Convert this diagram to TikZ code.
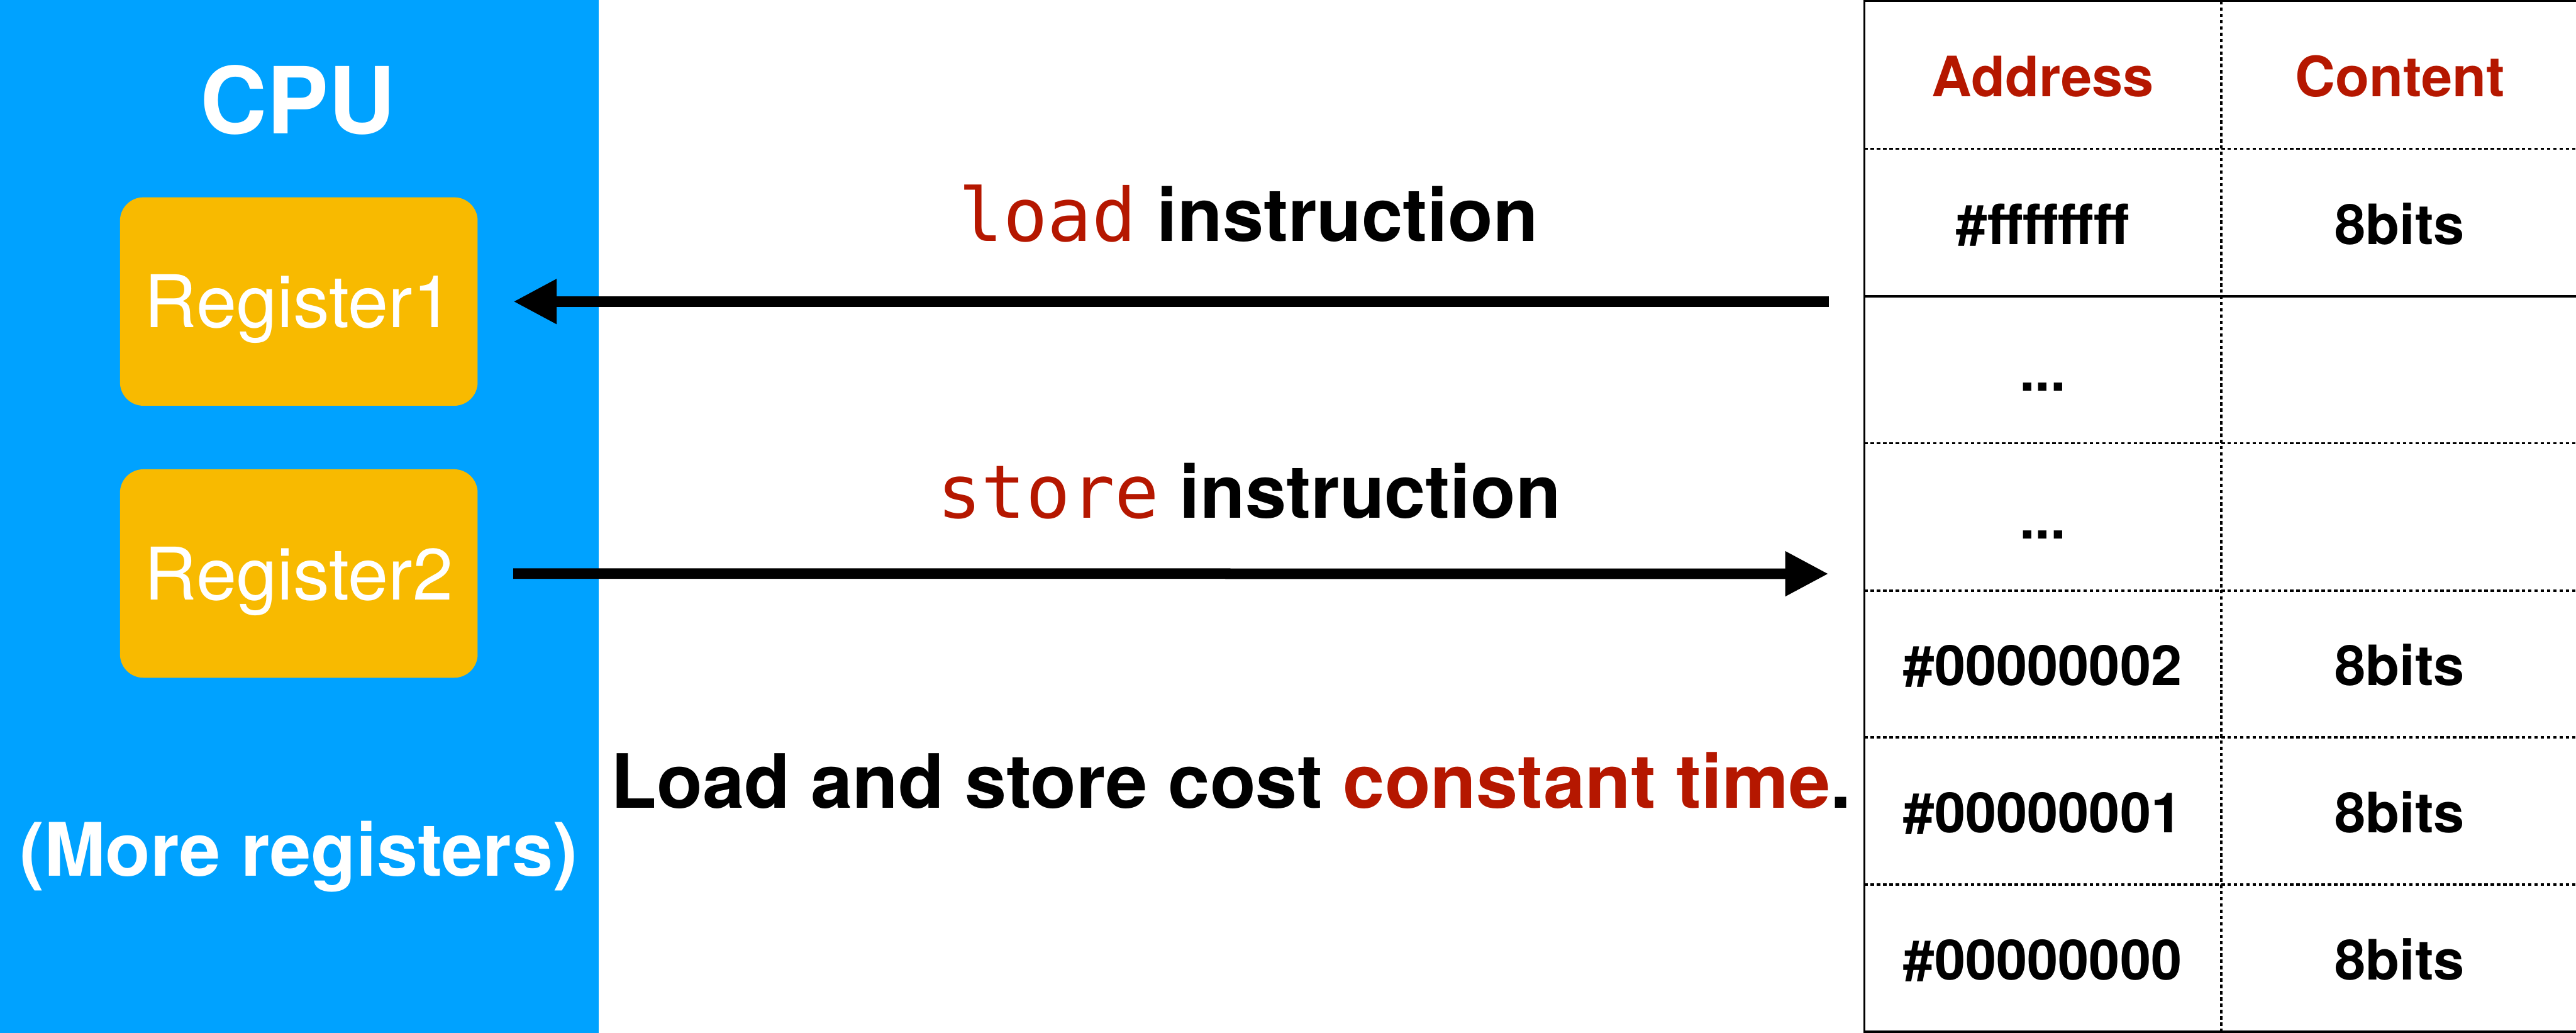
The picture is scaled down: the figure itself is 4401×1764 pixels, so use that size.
\documentclass[tikz,border=0pt]{standalone}
\usepackage{fontspec}
\setmainfont{TeX Gyre Heros}
\newfontfamily\codefont{DejaVu Sans Mono}
\usetikzlibrary{arrows.meta}
\definecolor{cpublue}{RGB}{0,162,255}
\definecolor{regyellow}{RGB}{248,186,0}
\definecolor{hlred}{RGB}{181,23,0}
\begin{document}
\begin{tikzpicture}[x=0.1pt,y=-0.1pt,
  lbl/.style={inner sep=0pt, anchor=base},
  cpubox/.style={fill=cpublue, inner sep=0pt, minimum width=102.3pt, minimum height=176.4pt},
  regbox/.style={fill=regyellow, rounded corners=4pt, minimum width=61.1pt, minimum height=35.6pt,
    inner sep=0pt, text=white, font=\fontsize{12.4}{14}\selectfont, text height=8.9pt, text depth=0pt},
  cell/.style={lbl, font=\fontsize{9.5}{11}\selectfont\bfseries},
  flow/.style={line width=1.8pt, -{Triangle[length=7.4pt,width=7.2pt]}},
  gridsolid/.style={line width=0.35pt},
  griddot/.style={line width=0.4pt, dash pattern=on 0.6pt off 0.47pt}]
\useasboundingbox (0,0) rectangle (4401,1764);

% CPU with its registers
\node[cpubox] (cpu) at (511.5,882) {};
\node[lbl, text=white, font=\fontsize{15.8}{18}\selectfont\bfseries] (cputitle) at (509,228) {CPU};
\node[regbox] (reg1) at (510.5,515) {Register1};
\node[regbox] (reg2) at (510.5,979.5) {Register2};
\node[lbl, text=white, font=\fontsize{12.6}{15}\selectfont\bfseries] (more) at (510,1496) {(More registers)};

% memory table
\draw[gridsolid] (4401,2) -- (3185,2) -- (3185,1762) -- (4401,1762);
\draw[gridsolid] (3185,506) -- (4401,506);
\foreach \yy in {254,757,1009,1259,1511}
  \draw[griddot] (3185,\yy) -- (4401,\yy);
\draw[griddot] (3795,2) -- (3795,1762);

\node[cell, text=hlred] (hAddr) at (3490,165) {Address};
\node[cell, text=hlred] (hCont) at (4100,165) {Content};
\node[cell] (a1) at (3490,417) {\#ffffffff};
\node[cell] (c1) at (4100,417) {8bits};
\node[cell] (a2) at (3490,668) {...};
\node[cell] (a3) at (3490,920) {...};
\node[cell] (a4) at (3490,1171) {\#00000002};
\node[cell] (c4) at (4100,1171) {8bits};
\node[cell] (a5) at (3490,1422) {\#00000001};
\node[cell] (c5) at (4100,1422) {8bits};
\node[cell] (a6) at (3490,1673) {\#00000000};
\node[cell] (c6) at (4100,1673) {8bits};

% load / store transfers
\coordinate (loadsrc) at (3124,515);
\coordinate (storedst) at (3124,980);
\draw[flow, shorten >=5.9pt] (loadsrc) -- (reg1.east);
\draw[flow, shorten <=5.9pt] (reg2.east) -- (storedst);

\node[lbl, font=\fontsize{12.6}{15}\selectfont] (loadlbl) at (2133,412)
  {{\codefont\color{hlred}load} \textbf{instruction}};
\node[lbl, font=\fontsize{12.6}{15}\selectfont] (storelbl) at (2134,885)
  {{\codefont\color{hlred}store} \textbf{instruction}};
\node[lbl, font=\fontsize{12.8}{15}\selectfont\bfseries] (note) at (2103.5,1380)
  {Load and store cost \textcolor{hlred}{constant time}.};
\end{tikzpicture}
\end{document}
